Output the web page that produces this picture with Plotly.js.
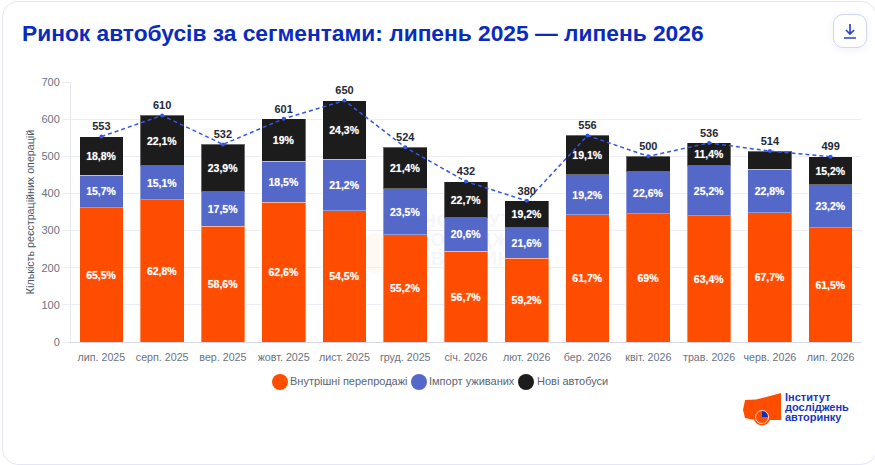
<!DOCTYPE html>
<html lang="uk">
<head>
<meta charset="utf-8">
<title>Ринок автобусів за сегментами</title>
<script src="https://cdn.plot.ly/plotly-3.0.1.min.js"></script>
<style>
	html, body {margin: 0; padding: 0; background: #fff; overflow: hidden;}
	#card {position: absolute; left: 2px; top: 1px; width: 873px; height: 462px; border: 1px solid #e4e6f6; border-radius: 16px; background: #fff;}
	#watermark {position: absolute; left: 417px; top: 212px; font: bold 18px/19px "Liberation Sans", Arial, sans-serif; color: #f5f6fc; letter-spacing: 1px;}
	#watermarkIcon {position: absolute; left: 365px; top: 233px; width: 22px; height: 40px; border-radius: 11px; background: #fff8f3;}
	#chart {position: absolute; left: 0; top: 0; width: 875px; height: 465px;}
	#download {position: absolute; left: 833px; top: 14px; width: 34px; height: 34px; box-sizing: border-box; border: 1px solid #cfd5f3; border-radius: 10px; background: #fff; box-shadow: 0 2px 10px rgba(40,60,160,0.07);}
	#download svg {position: absolute; left: 9px; top: 8px;}
</style>
</head>
<body>
<div id="card"></div>
<div id="watermarkIcon"></div>
<div id="watermark">ІНСТИТУТ<br>ДОСЛІДЖЕНЬ<br>АВТОРИНКУ</div>
<div id="chart"></div>
<div id="download">
	<svg width="14" height="16" viewBox="0 0 14 16" fill="none" stroke="#2b46c8" stroke-width="1.7">
		<path d="M7 1V10.5M3 7L7 11L11 7M1 15H13"/>
	</svg>
</div>
<script>
var months = ['лип. 2025', 'серп. 2025', 'вер. 2025', 'жовт. 2025', 'лист. 2025', 'груд. 2025', 'січ. 2026', 'лют. 2026', 'бер. 2026', 'квіт. 2026', 'трав. 2026', 'черв. 2026', 'лип. 2026'];

var resales = [362, 383, 312, 376, 354, 289, 245, 225, 343, 345, 340, 348, 307];
var imports = [87, 92, 93, 111, 138, 123, 89, 82, 107, 113, 135, 117, 116];
var newBuses = [104, 135, 127, 114, 158, 112, 98, 73, 106, 42, 61, 49, 76];
var totals = [553, 610, 532, 601, 650, 524, 432, 380, 556, 500, 536, 514, 499];

var resalesPct = ['65,5%', '62,8%', '58,6%', '62,6%', '54,5%', '55,2%', '56,7%', '59,2%', '61,7%', '69%', '63,4%', '67,7%', '61,5%'];
var importsPct = ['15,7%', '15,1%', '17,5%', '18,5%', '21,2%', '23,5%', '20,6%', '21,6%', '19,2%', '22,6%', '25,2%', '22,8%', '23,2%'];
var newBusesPct = ['18,8%', '22,1%', '23,9%', '19%', '24,3%', '21,4%', '22,7%', '19,2%', '19,1%', '', '11,4%', '', '15,2%'];

var seriesNames = ['Внутрішні перепродажі', 'Імпорт уживаних', 'Нові автобуси'];
var seriesColors = ['#ff4d00', '#5468c9', '#1c1c1c'];

var FONT = 'Liberation Sans, Arial, sans-serif';
var W = 875, H = 465;
var margin = {l: 71, r: 14, t: 82, b: 123};

// pixel position on the page -> paper fraction, for the legend and the logo
function px(x){ return (x - margin.l) / (W - margin.l - margin.r); }
function py(y){ return 1 - (y - margin.t) / (H - margin.t - margin.b); }

function barTrace(name, values, labels, color){
	return {
		type: 'bar',
		name: name,
		x: months,
		y: values,
		text: labels,
		textposition: 'inside',
		insidetextanchor: 'middle',
		textangle: 0,
		constraintext: 'none',
		textfont: {family: FONT, size: 10.5, color: '#ffffff', weight: 700, shadow: '0 0 1px rgba(255,255,255,0.5)'},
		marker: {color: color, line: {color: 'rgba(255,255,255,0.35)', width: 1}},
		hoverinfo: 'name+y'
	};
}

var data = [
	barTrace(seriesNames[0], resales, resalesPct, seriesColors[0]),
	barTrace(seriesNames[1], imports, importsPct, seriesColors[1]),
	barTrace(seriesNames[2], newBuses, newBusesPct, seriesColors[2]),
	{
		type: 'scatter',
		mode: 'lines+markers+text',
		name: 'Усього',
		x: months,
		y: totals,
		text: totals.map(String),
		textposition: 'top center',
		textfont: {family: FONT, size: 11, color: '#1f2937', weight: 700},
		line: {color: '#3558e0', width: 1.5, dash: '4px,3px'},
		marker: {color: '#3558e0', size: 4},
		cliponaxis: false
	}
];

// legend keys sit tight against their text in the original, so they are drawn by hand
var legendCircles = [280, 419, 526];
var legendLabels = [288, 427, 535];

var shapes = seriesNames.map(function(name, indx){
	return {
		type: 'circle', xref: 'paper', yref: 'paper',
		xsizemode: 'pixel', ysizemode: 'pixel',
		xanchor: px(legendCircles[indx]), yanchor: py(382),
		x0: -8, x1: 8, y0: -8, y1: 8,
		fillcolor: seriesColors[indx], line: {width: 0}
	};
});

// logo: orange silhouette with a small pie
function logoPath(points){
	return 'M' + points.map(function(p){ return px(p[0]) + ',' + py(p[1]); }).join('L') + 'Z';
}
shapes.push({
	type: 'path', xref: 'paper', yref: 'paper', fillcolor: '#ff4d00', line: {width: 0},
	path: logoPath([[745, 400], [756, 399.5], [770, 396], [781, 393], [781, 420], [768, 420], [752, 419.5], [745, 418], [743, 410]])
});
shapes.push({
	type: 'circle', xref: 'paper', yref: 'paper', xsizemode: 'pixel', ysizemode: 'pixel',
	xanchor: px(762), yanchor: py(417), x0: -8.5, x1: 8.5, y0: -8.5, y1: 8.5,
	fillcolor: '#ff4d00', line: {color: '#ffffff', width: 0}
});
shapes.push({
	type: 'circle', xref: 'paper', yref: 'paper', xsizemode: 'pixel', ysizemode: 'pixel',
	xanchor: px(762), yanchor: py(417), x0: -6.5, x1: 6.5, y0: -6.5, y1: 6.5,
	fillcolor: '#ff4d00', line: {color: '#ffffff', width: 0.8}
});
shapes.push({
	type: 'path', xref: 'paper', yref: 'paper', fillcolor: '#0f2fb5', line: {width: 0},
	path: logoPath([[762, 417], [762, 411], [765, 411.8], [767.2, 414], [768, 417]])
});

var annotations = seriesNames.map(function(name, indx){
	return {
		xref: 'paper', yref: 'paper', x: px(legendLabels[indx]), y: py(381),
		xanchor: 'left', yanchor: 'middle', showarrow: false, text: name,
		font: {family: FONT, size: 11, color: '#5b6472'}
	};
});

var logoLines = ['Інститут', 'досліджень', 'авторинку'];
logoLines.forEach(function(line, indx){
	annotations.push({
		xref: 'paper', yref: 'paper', x: px(783), y: py(396.7 + indx * 10),
		xanchor: 'left', yanchor: 'middle', showarrow: false, text: '<b>' + line + '</b>',
		font: {family: FONT, size: 11, color: '#1a36c0'}
	});
});

var layout = {
	width: W,
	height: H,
	margin: margin,
	paper_bgcolor: 'rgba(0,0,0,0)',
	plot_bgcolor: 'rgba(0,0,0,0)',
	barmode: 'stack',
	bargap: 0.28,
	showlegend: false,
	title: {
		text: '<b>Ринок автобусів за сегментами: липень 2025 — липень 2026</b>',
		x: 22 / W, xanchor: 'left', y: 1 - 33 / H, yanchor: 'middle',
		font: {family: FONT, size: 22.75, color: '#0b2bbd'}
	},
	xaxis: {
		type: 'category',
		range: [-0.5, 12.5],
		showgrid: false,
		showline: true,
		linecolor: '#d5d8e8',
		ticks: '',
		ticklabelstandoff: 5,
		tickangle: 0,
		tickfont: {family: FONT, size: 10.7, color: '#6b7280'}
	},
	yaxis: {
		range: [0, 700],
		tickvals: [0, 100, 200, 300, 400, 500, 600, 700],
		gridcolor: '#ecedf6',
		showline: true,
		linecolor: '#e4e6f2',
		ticks: 'outside',
		ticklen: 8,
		tickcolor: '#ecedf6',
		zeroline: false,
		tickfont: {family: FONT, size: 11, color: '#6b7280'},
		title: {
			text: 'Кількість реєстраційних операцій',
			standoff: 4,
			font: {family: FONT, size: 10.7, color: '#4b5563'}
		}
	},
	shapes: shapes,
	annotations: annotations
};

Plotly.newPlot('chart', data, layout, {displayModeBar: false});
</script>
</body>
</html>
